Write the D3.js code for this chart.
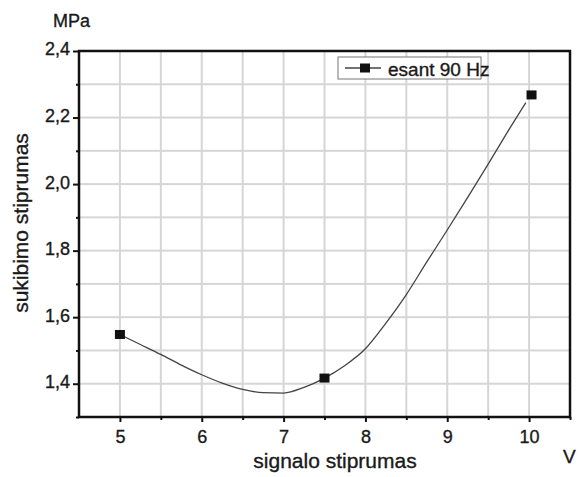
<!DOCTYPE html>
<html>
<head>
<meta charset="utf-8">
<script src="https://cdn.jsdelivr.net/npm/d3@7"></script>
<style>
  body { margin: 0; background: #fff; }
  text { font-family: "Liberation Sans", Arial, sans-serif; fill: #1a1a1a; stroke: #1a1a1a; stroke-width: 0.35px; }
</style>
</head>
<body>
<div id="chart"></div>
<script>
// measured points
var pointX = [5, 7.5, 10.03];
var pointY = [1.548, 1.417, 2.268];

// fitted curve
var fitX = [5.0, 5.25, 5.5, 5.75, 6.0, 6.25, 6.5, 6.75, 7.0, 7.25, 7.5, 7.75, 8.0, 8.25, 8.5, 8.75, 9.0, 9.25, 9.5, 9.75, 9.96];
var fitY = [1.548, 1.518, 1.488, 1.456, 1.427, 1.402, 1.383, 1.373, 1.372, 1.389, 1.417, 1.455, 1.505, 1.582, 1.668, 1.766, 1.862, 1.96, 2.06, 2.162, 2.245];

var xTicks = [5, 6, 7, 8, 9, 10];
var yTicks = [1.4, 1.6, 1.8, 2.0, 2.2, 2.4];
var legendLabel = "esant 90 Hz";

var width = 580, height = 477;
var margin = {top: 51, right: 10, bottom: 60, left: 79};
var w = width - margin.left - margin.right;
var h = height - margin.top - margin.bottom;

var x = d3.scaleLinear().domain([4.5, 10.5]).range([0, w]);
var y = d3.scaleLinear().domain([1.3, 2.4]).range([h, 0]);

var svg = d3.select("#chart").append("svg")
    .attr("width", width)
    .attr("height", height);
var g = svg.append("g")
    .attr("transform", "translate(" + margin.left + "," + margin.top + ")");

// gridlines every 0.5 / 0.1, drawn as thin filled bars
var gridX = d3.range(10, 21).map(function(k) { return k / 2; });
var gridY = d3.range(14, 24).map(function(k) { return k / 10; });
g.append("g").selectAll("rect").data(gridX).enter().append("rect")
    .attr("x", function(d) { return x(d) - 1; })
    .attr("y", 0)
    .attr("width", 2)
    .attr("height", h)
    .attr("fill", "#d6d6d6");
g.append("g").selectAll("rect").data(gridY).enter().append("rect")
    .attr("x", 0)
    .attr("y", function(d) { return y(d) - 1; })
    .attr("width", w)
    .attr("height", 2)
    .attr("fill", "#d6d6d6");

// axes
var fmt = function(d) { return d3.format(".1f")(d).replace(".", ","); };
var xAxis = g.append("g")
    .attr("transform", "translate(0," + h + ")")
    .call(d3.axisBottom(x).tickValues(xTicks).tickSize(5).tickPadding(8).tickFormat(d3.format("d")));
var xMinor = g.append("g")
    .attr("transform", "translate(0," + h + ")")
    .call(d3.axisBottom(x).tickValues(d3.range(5.5, 10.6, 1)).tickSize(3).tickFormat(""));
var yAxis = g.append("g")
    .call(d3.axisLeft(y).tickValues(yTicks).tickSize(6).tickPadding(3).tickFormat(fmt));
var yMinor = g.append("g")
    .call(d3.axisLeft(y).tickValues(d3.range(1.3, 2.35, 0.2)).tickSize(3).tickFormat(""));

[xAxis, xMinor, yAxis, yMinor].forEach(function(a) {
    a.select(".domain").remove();
    a.selectAll(".tick line").attr("stroke", "#111").attr("stroke-width", 2);
    a.selectAll(".tick text")
        .style("font-family", "'Liberation Sans', Arial, sans-serif")
        .style("font-size", "18px")
        .attr("fill", "#1a1a1a");
});
yAxis.selectAll(".tick text").attr("dy", "0.22em");

// frame
g.append("rect")
    .attr("x", 0).attr("y", 0)
    .attr("width", w).attr("height", h)
    .attr("fill", "none")
    .attr("stroke", "#111")
    .attr("stroke-width", 2.5);

// fitted curve
var fitData = fitX.map(function(d, i) { return {x: d, y: fitY[i]}; });
var line = d3.line()
    .x(function(d) { return x(d.x); })
    .y(function(d) { return y(d.y); })
    .curve(d3.curveMonotoneX);
g.append("path")
    .datum(fitData)
    .attr("fill", "none")
    .attr("stroke", "#444")
    .attr("stroke-width", 1.3)
    .attr("d", line);

// markers
var ms = 10;
g.selectAll(".pt").data(pointX).enter().append("rect")
    .attr("class", "pt")
    .attr("x", function(d) { return x(d) - ms / 2; })
    .attr("y", function(d, i) { return y(pointY[i]) - ms / 2 + 0.5; })
    .attr("width", ms).attr("height", ms - 1)
    .attr("fill", "#111");

// legend
var lg = svg.append("g").attr("transform", "translate(338,57)");
lg.append("rect")
    .attr("width", 143).attr("height", 22)
    .attr("fill", "#fff")
    .attr("stroke", "#777").attr("stroke-width", 1);
lg.append("line")
    .attr("x1", 7).attr("x2", 43).attr("y1", 11).attr("y2", 11)
    .attr("stroke", "#444").attr("stroke-width", 1.3);
lg.append("rect")
    .attr("x", 27 - ms / 2).attr("y", 11 - ms / 2 + 0.5)
    .attr("width", ms).attr("height", ms - 1)
    .attr("fill", "#111");
lg.append("text")
    .attr("x", 50).attr("y", 19)
    .style("font-size", "19px")
    .text(legendLabel);

// titles
svg.append("text")
    .attr("x", 335).attr("y", 468)
    .attr("text-anchor", "middle")
    .style("font-size", "21px")
    .text("signalo stiprumas");
svg.append("text")
    .attr("transform", "translate(28,223) rotate(-90)")
    .attr("text-anchor", "middle")
    .style("font-size", "21px")
    .text("sukibimo stiprumas");
svg.append("text")
    .attr("x", 53).attr("y", 27)
    .style("font-size", "18px")
    .text("MPa");
svg.append("text")
    .attr("x", 563).attr("y", 463)
    .style("font-size", "19px")
    .text("V");
</script>
</body>
</html>
